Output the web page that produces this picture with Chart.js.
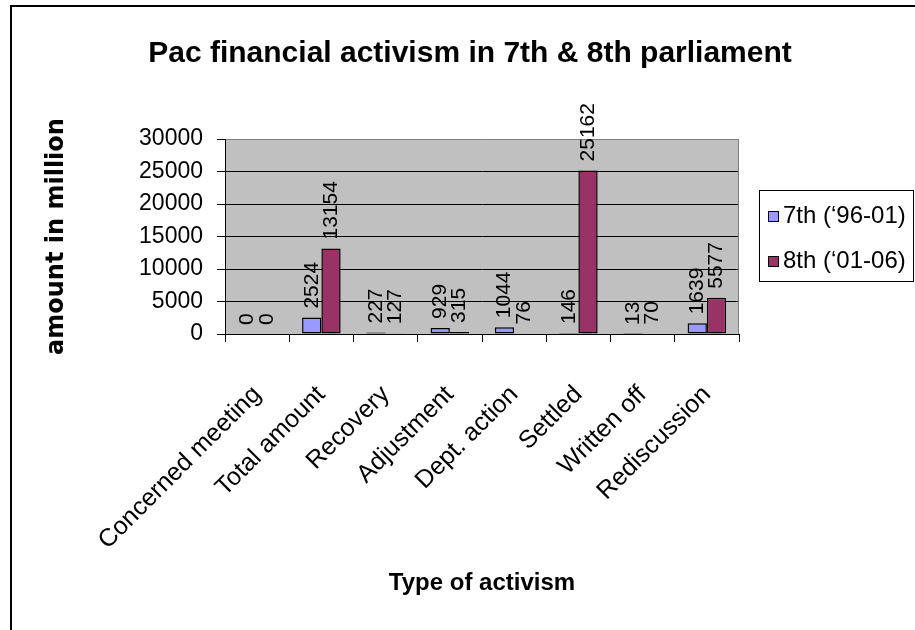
<!DOCTYPE html>
<html>
<head>
<meta charset="utf-8">
<title>Pac financial activism</title>
<script src="https://cdn.jsdelivr.net/npm/chart.js@4/dist/chart.umd.min.js"></script>
<style>
  html, body { margin: 0; padding: 0; background: #fff; }
  #wrap { width: 915px; height: 630px; }
</style>
</head>
<body>
<div id="wrap"><canvas id="pacChart" width="915" height="630"></canvas></div>
<script>
// ===== DATA =====
const CATEGORIES = ['Concerned meeting', 'Total amount', 'Recovery', 'Adjustment', 'Dept. action', 'Settled', 'Written off', 'Rediscussion'];
const SERIES_NAMES = ['7th (\u201896-01)', '8th (\u201801-06)'];
const SEVENTH = [0, 2524, 227, 929, 1044, 146, 13, 1639];
const EIGHTH = [0, 13154, 127, 315, 76, 25162, 70, 5577];
const Y_TICKS = [0, 5000, 10000, 15000, 20000, 25000, 30000];

const FONT = '"Liberation Sans", Arial, sans-serif';
const COLORS = ['#9999ff', '#993366'];

// white page, grey plot area, and the frame's left / top edges
const chartFrame = {
  id: 'chartFrame',
  beforeDraw(chart) {
    const { ctx, chartArea: a } = chart;
    ctx.save();
    ctx.fillStyle = '#fff';
    ctx.fillRect(0, 0, chart.width, chart.height);
    ctx.fillStyle = '#c0c0c0';
    ctx.fillRect(a.left, a.top, a.right - a.left, a.bottom - a.top);
    ctx.strokeStyle = '#000';
    ctx.lineWidth = 2;
    ctx.beginPath();
    ctx.moveTo(11, chart.height);
    ctx.lineTo(11, 6);
    ctx.lineTo(chart.width, 6);
    ctx.stroke();
    ctx.restore();
  },
  beforeDatasetsDraw(chart) {
    const { ctx, chartArea: a } = chart;
    ctx.save();
    ctx.strokeStyle = '#808080';
    ctx.lineWidth = 1;
    ctx.beginPath();
    ctx.moveTo(a.right - 0.5, a.top);
    ctx.lineTo(a.right - 0.5, a.bottom);
    ctx.stroke();
    ctx.restore();
  }
};

// vertical value labels above every bar
const barValues = {
  id: 'barValues',
  afterDatasetsDraw(chart) {
    const ctx = chart.ctx;
    ctx.save();
    ctx.fillStyle = '#000';
    ctx.font = '21px ' + FONT;
    ctx.textAlign = 'left';
    ctx.textBaseline = 'middle';
    chart.data.datasets.forEach((ds, i) => {
      chart.getDatasetMeta(i).data.forEach((bar, j) => {
        ctx.save();
        ctx.translate(bar.x, bar.y - 9);
        ctx.rotate(-Math.PI / 2);
        ctx.fillText(String(ds.data[j]), 0, 0);
        ctx.restore();
      });
    });
    ctx.restore();
  }
};

// chart title and the boxed legend on the right
const titleAndLegend = {
  id: 'titleAndLegend',
  afterDraw(chart) {
    const ctx = chart.ctx;
    ctx.save();
    ctx.fillStyle = '#000';
    ctx.font = 'bold 30px ' + FONT;
    ctx.textAlign = 'center';
    ctx.textBaseline = 'alphabetic';
    ctx.fillText('Pac financial activism in 7th & 8th parliament', 470, 62);

    ctx.strokeStyle = '#000';
    ctx.lineWidth = 1;
    ctx.strokeRect(759.5, 190.5, 154, 91);
    ctx.font = '24px ' + FONT;
    ctx.textAlign = 'left';
    ctx.textBaseline = 'middle';
    chart.data.datasets.forEach((ds, i) => {
      const y = 216 + i * 45;
      ctx.fillStyle = ds.backgroundColor;
      ctx.fillRect(768.5, y - 4.5, 10, 10);
      ctx.strokeRect(768.5, y - 4.5, 10, 10);
      ctx.fillStyle = '#000';
      ctx.fillText(ds.label, 783, y);
    });
    ctx.restore();
  }
};

function renderChart() {
  const ctx = document.getElementById('pacChart').getContext('2d');
  new Chart(ctx, {
    type: 'bar',
    data: {
      labels: CATEGORIES,
      datasets: [
        { label: SERIES_NAMES[0], data: SEVENTH, backgroundColor: COLORS[0] },
        { label: SERIES_NAMES[1], data: EIGHTH, backgroundColor: COLORS[1] }
      ]
    },
    options: {
      responsive: false,
      animation: false,
      devicePixelRatio: 1,
      layout: { padding: { top: 139, right: 176, bottom: 0, left: 0 } },
      datasets: {
        bar: {
          categoryPercentage: 0.6,
          barPercentage: 1.0,
          borderColor: '#000',
          borderWidth: 1.5,
          borderSkipped: false
        }
      },
      plugins: {
        legend: { display: false },
        title: { display: false },
        tooltip: { enabled: false }
      },
      scales: {
        x: {
          grid: { drawOnChartArea: false, offset: true, color: '#000', tickLength: 8 },
          border: { color: '#000', width: 1 },
          ticks: {
            autoSkip: false,
            minRotation: 45,
            maxRotation: 45,
            padding: 38,
            color: '#000',
            font: { family: FONT, size: 25 }
          },
          title: {
            display: true,
            text: 'Type of activism',
            color: '#000',
            font: { family: FONT, size: 24, weight: 'bold' },
            padding: { top: 0, bottom: 32 }
          },
          afterFit: scale => { scale.height = 296; }
        },
        y: {
          min: 0,
          max: 30000,
          afterBuildTicks: scale => { scale.ticks = Y_TICKS.map(v => ({ value: v })); },
          grid: {
            color: c => (c.tick && c.tick.value === 30000 ? '#808080' : '#000'),
            tickColor: '#000',
            tickLength: 8,
            lineWidth: 1
          },
          border: { color: '#000', width: 1 },
          ticks: {
            padding: 14,
            color: '#000',
            font: { family: FONT, size: 23 },
            callback: v => String(v)
          },
          title: {
            display: true,
            text: 'amount in million',
            color: '#000',
            font: { family: '"DejaVu Sans", sans-serif', size: 24, weight: 'bold' },
            padding: { top: 42, bottom: 0 }
          },
          afterFit: scale => { scale.width = 225; }
        }
      }
    },
    plugins: [chartFrame, barValues, titleAndLegend]
  });
}

document.addEventListener('DOMContentLoaded', renderChart);
</script>
</body>
</html>
